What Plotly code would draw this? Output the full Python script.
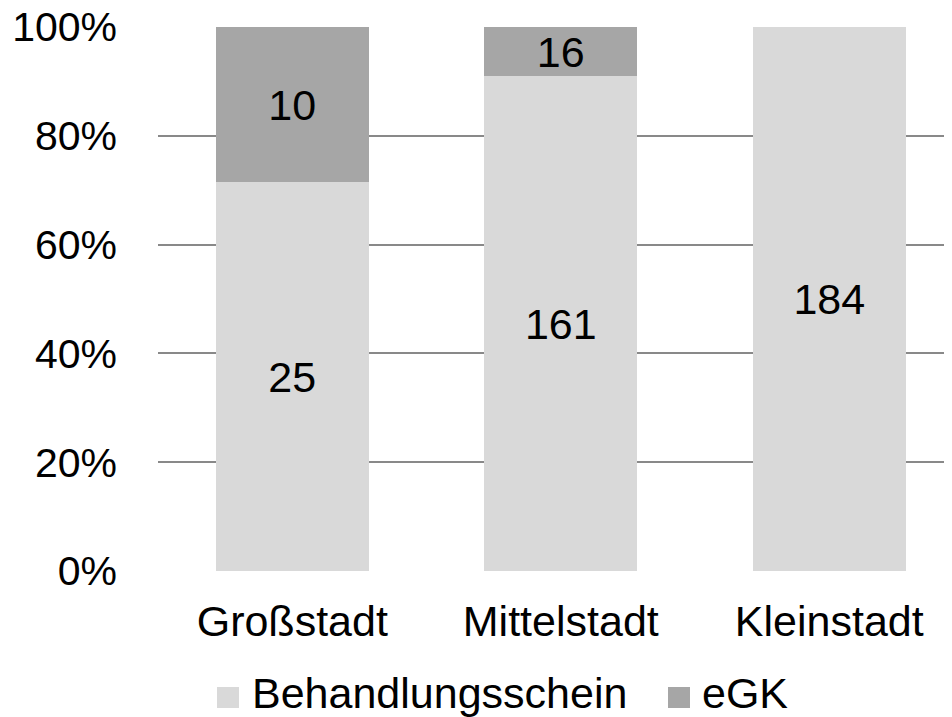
import plotly.graph_objects as go

categories = ["Großstadt", "Mittelstadt", "Kleinstadt"]
behandlungsschein = [25, 161, 184]
egk = [10, 16, 0]
series_names = ["Behandlungsschein", "eGK"]
y_ticks = [0, 20, 40, 60, 80, 100]
y_tick_labels = [f"{v}%" for v in y_ticks]

colors = ["#d9d9d9", "#a6a6a6"]
FONT = "Liberation Sans, Arial, sans-serif"
FS = 43

# The page body has an 8px margin, so the figure is offset by 8px.
OFF = 8
W, H = 952 - OFF, 717 - OFF
ML, MR, MT = 158 - OFF, 0, 27 - OFF
PH = 544
MB = H - MT - PH
PW = W - ML - MR


def px_x(px):
    return (px - OFF - ML) / PW


def px_y(py):
    return (MT + PH - (py - OFF)) / PH


fig = go.Figure()
for name, vals, col in zip(series_names, [behandlungsschein, egk], colors):
    fig.add_trace(go.Bar(
        x=categories, y=vals, name=name,
        marker=dict(color=col, line=dict(width=0)),
        text=[str(v) if v else "" for v in vals],
        textposition="inside", insidetextanchor="middle",
        constraintext="none", textangle=0,
        textfont=dict(family=FONT, size=FS, color="black"),
        showlegend=False,
    ))

# legend (drawn manually to match large square keys)
legend_items = [(series_names[0], colors[0], 217, 250), (series_names[1], colors[1], 668, 700)]
shapes, annotations = [], []
for name, col, sq_x, tx in legend_items:
    shapes.append(dict(type="rect", xref="paper", yref="paper",
                       x0=px_x(sq_x), x1=px_x(sq_x + 22), y0=px_y(708), y1=px_y(687),
                       fillcolor=col, line=dict(width=0)))
    annotations.append(dict(text=name, xref="paper", yref="paper", x=px_x(tx), y=px_y(693),
                            xanchor="left", yanchor="middle", showarrow=False,
                            font=dict(family=FONT, size=FS, color="black")))

fig.update_layout(
    width=W, height=H,
    margin=dict(l=ML, r=MR, t=MT, b=MB, autoexpand=False),
    paper_bgcolor="white", plot_bgcolor="white",
    barmode="stack", barnorm="percent", bargap=0.43,
    font=dict(family=FONT, size=FS, color="black"),
    showlegend=False,
    shapes=shapes, annotations=annotations,
    xaxis=dict(range=[-0.5, 2.457], showgrid=False, showline=False, zeroline=False,
               ticks="", automargin=False, ticklabelstandoff=21,
               tickfont=dict(family=FONT, size=FS, color="black")),
    yaxis=dict(range=[0, 100], tickvals=y_ticks, ticktext=y_tick_labels,
               showgrid=True, gridcolor="#898989", gridwidth=1.5,
               zeroline=False, showline=False, ticks="", automargin=False,
               ticklabelstandoff=40, ticklabeloverflow="allow",
               tickfont=dict(family=FONT, size=41, color="black")),
)
fig.write_html("out.html")
